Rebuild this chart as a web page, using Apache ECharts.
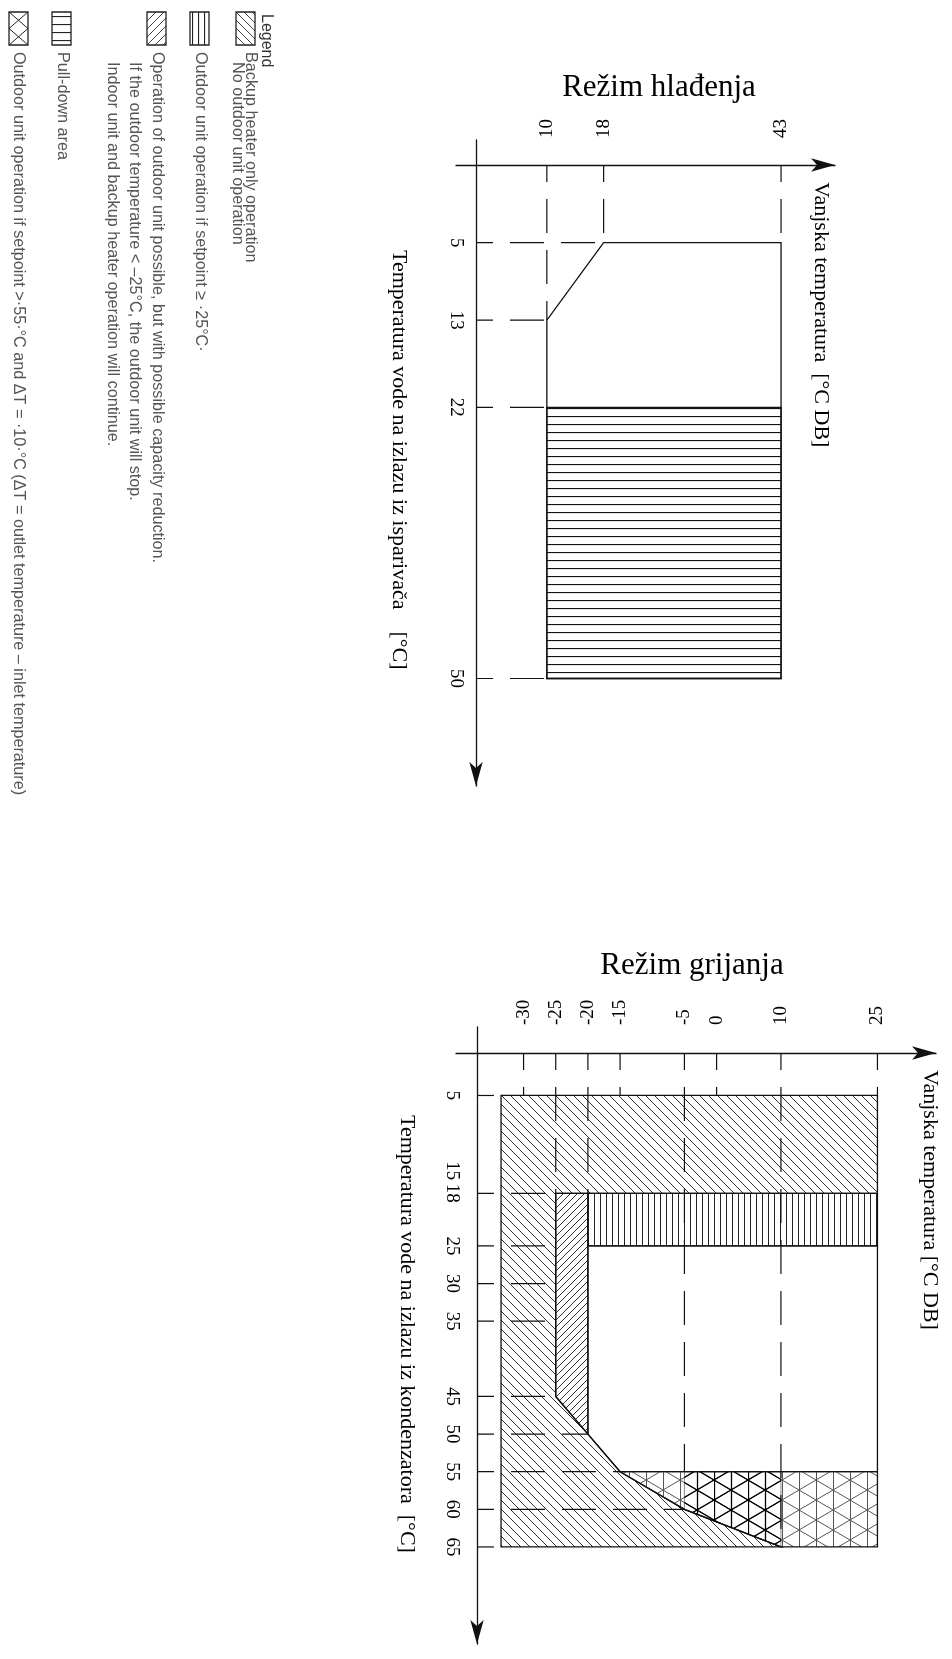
<!DOCTYPE html>
<html><head><meta charset="utf-8">
<script src="https://cdn.jsdelivr.net/npm/echarts@6/dist/echarts.min.js"></script>
<style>html,body{margin:0;padding:0;background:#fff}#c{width:952px;height:1659px}</style>
</head><body><div id="c"></div>
<script>
// ================= DATA =================
// Cooling mode (Režim hlađenja): x = outdoor temperature, y = evaporator water outlet temperature
const coolTitle = 'Režim hlađenja';
const coolXName = 'Vanjska temperatura  [°C DB]';
const coolYName = 'Temperatura vode na izlazu iz isparivača    [°C]';
const coolOutdoorTicks = [10, 18, 43];
const coolWaterTicks = [5, 13, 22, 50];
const coolEnvelope = [[18, 5], [43, 5], [43, 50], [10, 50], [10, 13]];
const coolSetpointArea = [[10, 22], [43, 22], [43, 50], [10, 50]];
const coolGuidesV = [[10, 13], [18, 5], [43, 5]];          // [outdoor, water end]
const coolGuidesH = [[5, 18], [13, 10], [22, 10], [50, 10]]; // [water, outdoor end]

// Heating mode (Režim grijanja): x = outdoor temperature, y = condenser water outlet temperature
const heatTitle = 'Režim grijanja';
const heatXName = 'Vanjska temperatura [°C DB]';
const heatYName = 'Temperatura vode na izlazu iz kondenzatora  [°C]';
const heatOutdoorTicks = [-30, -25, -20, -15, -5, 0, 10, 25];
const heatWaterTicks = [5, 15, 18, 25, 30, 35, 45, 50, 55, 60, 65];
const heatBackupOnly = [[-33.5, 5], [25, 5], [25, 18], [-25, 18], [-25, 45], [-20, 50], [-15, 55], [-5, 60], [10, 65], [-33.5, 65]];
const heatReduced = [[-25, 18], [-20, 18], [-20, 50], [-25, 45]];
const heatPullDown = [[-20, 18], [25, 18], [25, 25], [-20, 25]];
const heatNormal = [[-20, 25], [25, 25], [25, 55], [-15, 55], [-20, 50]];
const heatHighSetpoint = [[-15, 55], [25, 55], [25, 65], [10, 65], [-5, 60]];
const heatHighOverlap = [[-5, 55], [10, 55], [10, 65], [-5, 60]];
const heatGuidesV = [[-30, 5], [-25, 18], [-20, 18], [-15, 5], [-5, 55], [0, 5], [10, 65], [25, 5]];
const heatGuidesH = [[5, -33.5], [18, -25], [25, -25], [30, -25], [35, -25], [45, -25], [50, -20], [55, -15], [60, -5], [65, -33.5]];

// Legend
const legendHeading = 'Legend';
const legendTexts = [
  ['Backup heater only operation', 'No outdoor unit operation'],
  ['Outdoor unit operation if setpoint \u2265 \u00b725\u00b0C\u00b7'],
  ['Operation of outdoor unit possible, but with possible capacity reduction.',
   'If the outdoor temperature < \u201325\u00b0C, the outdoor unit will stop.',
   'Indoor unit and backup heater operation will continue.'],
  ['Pull-down area'],
  ['Outdoor unit operation if setpoint >\u00b755\u00b7\u00b0C and \u0394T = \u00b710\u00b7\u00b0C (\u0394T = outlet temperature \u2013 inlet temperature)']
];

// ================= STYLE / LAYOUT =================
const SERIF = '"Liberation Serif", "Times New Roman", serif';
const SANS = '"Liberation Sans", Arial, sans-serif';
const X_INSET = [25, 26];   // distance of horizontal axis line below grid top
const Y_INSET = [20, 21];   // distance of vertical axis line right of grid left

function tile(w, h, color, width, draw) {
  const c = document.createElement('canvas');
  c.width = w; c.height = h;
  const ctx = c.getContext('2d');
  ctx.strokeStyle = color; ctx.lineWidth = width;
  ctx.beginPath(); draw(ctx, w, h); ctx.stroke();
  return { image: c, repeat: 'repeat' };
}
const backslash = (ctx, w, h) => { for (let k = -1; k <= 1; k++) { ctx.moveTo(k * w, 0); ctx.lineTo(k * w + w, h); } };
const slash = (ctx, w, h) => { for (let k = -1; k <= 1; k++) { ctx.moveTo(k * w, h); ctx.lineTo(k * w + w, 0); } };
const vertical = (ctx, w, h) => { ctx.moveTo(0.5, 0); ctx.lineTo(0.5, h); };
const horizontal = (ctx, w, h) => { ctx.moveTo(0, 0.5); ctx.lineTo(w, 0.5); };
const cross = (ctx, w, h) => {
  ctx.moveTo(0.5, 0); ctx.lineTo(0.5, h); ctx.moveTo(w / 2 + 0.5, 0); ctx.lineTo(w / 2 + 0.5, h);
  for (let k = -1; k <= 1; k++) { ctx.moveTo(k * w, 0); ctx.lineTo(k * w + w, h); ctx.moveTo(k * w, h); ctx.lineTo(k * w + w, 0); }
};
const patBack = tile(9, 9, '#333', 1, backslash);
const patSlash = tile(7, 7, '#333', 1, slash);
const patVert = tile(6, 6, '#222', 1, vertical);
const patHoriz = tile(8, 8, '#111', 1.2, horizontal);
const patCross = tile(34, 20, '#555', 1, cross);
const patCrossDark = tile(34, 20, '#000', 1.3, cross);

const edge = { stroke: '#111', lineWidth: 1.3 };

function polySeries(gi, polys, styles, z) {
  return {
    type: 'custom', xAxisIndex: gi, yAxisIndex: gi, z, silent: true, clip: false,
    data: polys.map(p => p[0]),
    renderItem: (params, api) => ({
      type: 'polygon',
      shape: { points: polys[params.dataIndex].map(pt => api.coord(pt)) },
      style: Object.assign({}, edge, styles[params.dataIndex])
    })
  };
}
function guideSeries(gi, guides, vertical) {
  return {
    type: 'custom', xAxisIndex: gi, yAxisIndex: gi, z: 10, silent: true, clip: false,
    data: guides.map(g => vertical ? [g[0], g[1]] : [g[1], g[0]]),
    renderItem: (params, api) => {
      const g = guides[params.dataIndex];
      const cs = params.coordSys;
      let shape;
      if (vertical) {
        const end = api.coord([g[0], g[1]]);
        shape = { x1: end[0], y1: cs.y + X_INSET[gi], x2: end[0], y2: end[1] };
      } else {
        const end = api.coord([g[1], g[0]]);
        shape = { x1: cs.x + Y_INSET[gi], y1: end[1], x2: end[0], y2: end[1] };
      }
      return { type: 'line', shape, style: { stroke: '#111', lineWidth: 1.2, lineDash: [34, 17], lineDashOffset: 17 } };
    }
  };
}
function xAx(gi, min, max, ticks, margin) {
  return {
    type: 'value', gridIndex: gi, min, max, position: 'top', offset: -X_INSET[gi],
    axisLine: { show: true, onZero: false, symbol: ['none', 'arrow'], symbolSize: [10, 24], lineStyle: { color: '#111', width: 1.3 } },
    axisTick: { show: false }, splitLine: { show: false },
    axisLabel: { customValues: ticks, rotate: -90, margin, fontFamily: SERIF, fontSize: 19, color: '#000' }
  };
}
function yAx(gi, min, max, ticks, margin) {
  return {
    type: 'value', gridIndex: gi, min, max, inverse: true, position: 'left', offset: -Y_INSET[gi],
    axisLine: { show: true, onZero: false, symbol: ['arrow', 'none'], symbolSize: [10, 24], lineStyle: { color: '#111', width: 1.3 } },
    axisTick: { show: false }, splitLine: { show: false },
    axisLabel: { customValues: ticks, rotate: -90, margin, fontFamily: SERIF, fontSize: 19, color: '#000' }
  };
}
function vText(text, x, y, font, fill) {
  return { type: 'text', x, y, rotation: -Math.PI / 2, silent: true,
    style: { text, font, fill: fill || '#000', textAlign: 'left', textVerticalAlign: 'middle' } };
}

// Legend graphics
const legendIconX = [236, 190, 147, 52, 9];
const legendLineX = [[250, 237], [200], [157, 134, 112], [62], [18]];
const legendIconPat = [
  tile(8, 8, '#444', 1, backslash),
  tile(6, 11, '#222', 1.2, vertical),
  tile(8, 8, '#444', 1, slash),
  tile(11, 8, '#222', 1.2, horizontal),
  null
];
const graphics = [];
graphics.push({ type: 'text', x: 659, y: 88, silent: true,
  style: { text: coolTitle, font: '31px ' + SERIF, fill: '#000', textAlign: 'center', textVerticalAlign: 'middle' } });
graphics.push({ type: 'text', x: 692, y: 966, silent: true,
  style: { text: heatTitle, font: '31px ' + SERIF, fill: '#000', textAlign: 'center', textVerticalAlign: 'middle' } });
graphics.push(vText(coolXName, 821, 182, '22px ' + SERIF));
graphics.push(vText(coolYName, 399, 250, '22px ' + SERIF));
graphics.push(vText(heatXName, 930, 1070, '22px ' + SERIF));
graphics.push(vText(heatYName, 407, 1115, '22px ' + SERIF));
graphics.push(vText(legendHeading, 266, 14, '16px ' + SANS, '#333'));
legendTexts.forEach((lines, i) => {
  const ix = legendIconX[i];
  graphics.push({ type: 'rect', shape: { x: ix, y: 12, width: 19, height: 33 }, silent: true,
    style: { fill: legendIconPat[i] || '#fff', stroke: '#222', lineWidth: 1.3 } });
  if (!legendIconPat[i]) {
    graphics.push({ type: 'polyline', silent: true, shape: { points: [[ix, 12], [ix + 19, 28.5], [ix, 45]] }, style: { stroke: '#222', lineWidth: 1, fill: null } });
    graphics.push({ type: 'polyline', silent: true, shape: { points: [[ix + 19, 12], [ix, 28.5], [ix + 19, 45]] }, style: { stroke: '#222', lineWidth: 1, fill: null } });
  }
  lines.forEach((t, j) => graphics.push(vText(t, legendLineX[i][j], j === 0 ? 52 : 62, '16.2px ' + SANS, '#555')));
});

const option = {
  backgroundColor: '#fff',
  animation: false,
  grid: [
    { left: 456, top: 140, width: 379, height: 646 },
    { left: 456, top: 1027, width: 480, height: 617 }
  ],
  xAxis: [
    xAx(0, -2.8, 50.6, coolOutdoorTicks, 27),
    xAx(1, -40.5, 34.1, heatOutdoorTicks, 28)
  ],
  yAxis: [
    yAx(0, -5.6, 61.1, coolWaterTicks, 11),
    yAx(1, -4.1, 77.9, heatWaterTicks, 16)
  ],
  series: [
    polySeries(0, [coolEnvelope, coolSetpointArea], [{ fill: 'rgba(0,0,0,0)' }, { fill: patHoriz }], 2),
    guideSeries(0, coolGuidesV, true),
    guideSeries(0, coolGuidesH, false),
    polySeries(1, [heatBackupOnly, heatReduced, heatPullDown, heatNormal, heatHighSetpoint, heatHighOverlap],
      [{ fill: patBack }, { fill: patSlash }, { fill: patVert }, { fill: 'rgba(0,0,0,0)' }, { fill: patCross }, { fill: patCrossDark, lineWidth: 0.5 }], 2),
    guideSeries(1, heatGuidesV, true),
    guideSeries(1, heatGuidesH, false)
  ],
  graphic: graphics
};
const chart = echarts.init(document.getElementById('c'));
chart.setOption(option);
</script>
</body></html>
